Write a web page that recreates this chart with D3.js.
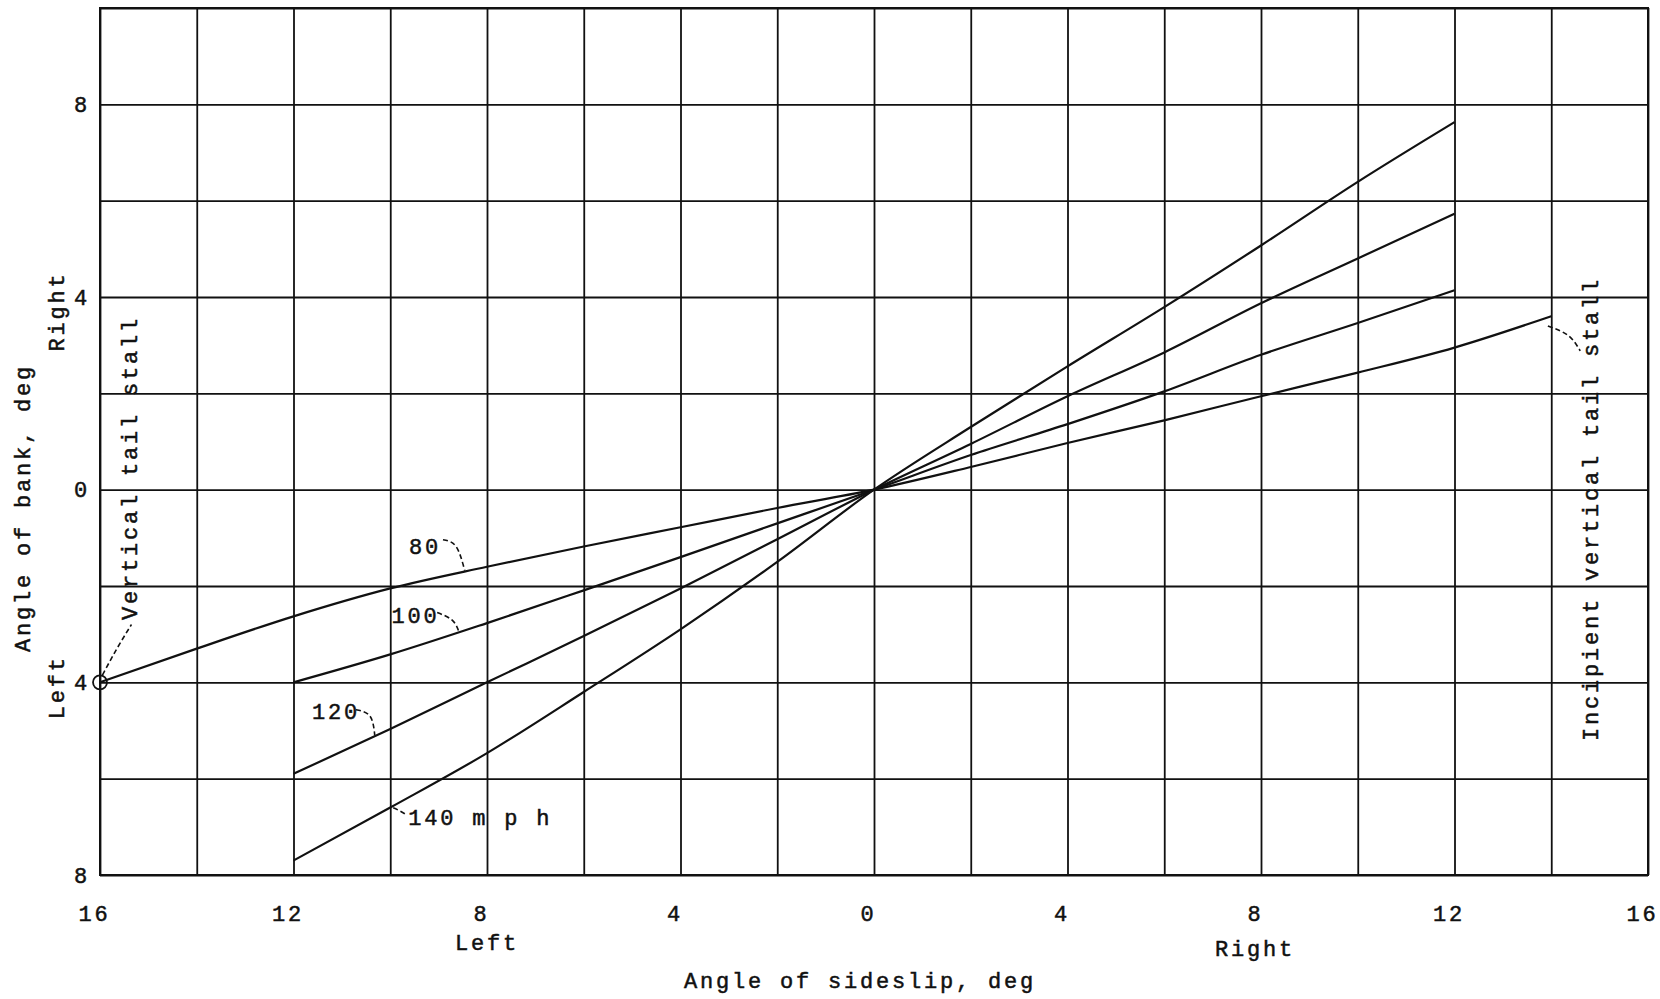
<!DOCTYPE html>
<html>
<head>
<meta charset="utf-8">
<script src="https://cdn.jsdelivr.net/npm/d3@7"></script>
<style>
body { margin: 0; background: #fff; }
text { font-family: "Liberation Mono", "Courier New", monospace; font-size: 22px; letter-spacing: 2.8px; fill: #111; stroke: #111; stroke-width: 0.5px; }
</style>
</head>
<body>
<svg id="chart" width="1660" height="999"></svg>
<script>
const svg = d3.select("#chart");

// Angle of sideslip (deg, left negative) and angle of bank (deg, left negative)
const beta80 = [-16, -14, -12, -10, -8, -6, -4, -2, 0, 2, 4, 6, 8, 10, 12, 14];
const phi80 = [-4, -3.3, -2.63, -2.05, -1.6, -1.18, -0.78, -0.38, 0, 0.47, 0.97, 1.44, 1.94, 2.43, 2.95, 3.6];
const beta100 = [-12, -10, -8, -6, -4, -2, 0, 2, 4, 6, 8, 10, 12];
const phi100 = [-4, -3.42, -2.77, -2.09, -1.4, -0.7, 0, 0.72, 1.36, 2.04, 2.8, 3.46, 4.14];
const beta120 = [-12, -10, -8, -6, -4, -2, 0, 2, 4, 6, 8, 10, 12];
const phi120 = [-5.9, -4.97, -4.0, -3.04, -2.05, -1.03, 0, 0.95, 1.94, 2.85, 3.87, 4.8, 5.73];
const beta140 = [-12, -10, -8, -6, -4, -2, 0, 2, 4, 6, 8, 10, 12];
const phi140 = [-7.7, -6.6, -5.47, -4.2, -2.9, -1.5, 0, 1.3, 2.56, 3.79, 5.07, 6.39, 7.63];

const speedLabels = ["80", "100", "120", "140 m p h"];
const xTicks = [-16, -12, -8, -4, 0, 4, 8, 12, 16];
const yTicks = [-8, -4, 0, 4, 8];
const xGrid = d3.range(-16, 17, 2);
const yGrid = d3.range(-8, 11, 2);

const x = d3.scaleLinear().domain([-16, 16]).range([100, 1648]);
const y = d3.scaleLinear().domain([-8, 10]).range([875, 8]);

const ink = "#111";

// grid
const gx = svg.append("g")
    .attr("transform", `translate(0,${y(-8)})`)
    .call(d3.axisBottom(x).tickValues(xGrid).tickSize(-(y(-8) - y(10))).tickFormat(""));
const gy = svg.append("g")
    .attr("transform", `translate(${x(-16)},0)`)
    .call(d3.axisLeft(y).tickValues(yGrid).tickSize(-(x(16) - x(-16))).tickFormat(""));
[gx, gy].forEach(g => {
    g.select(".domain").remove();
    g.selectAll("line").attr("stroke", ink).attr("stroke-width", 1.8);
});

svg.append("rect")
    .attr("x", x(-16)).attr("y", y(10))
    .attr("width", x(16) - x(-16)).attr("height", y(-8) - y(10))
    .attr("fill", "none").attr("stroke", ink).attr("stroke-width", 2);

// tick labels
const lx = svg.append("g")
    .attr("transform", `translate(0,${y(-8)})`)
    .call(d3.axisBottom(x).tickValues(xTicks).tickSize(0).tickPadding(30).tickFormat(d => Math.abs(d)));
lx.selectAll("text").attr("dx", -6);
const ly = svg.append("g")
    .attr("transform", `translate(${x(-16)},0)`)
    .call(d3.axisLeft(y).tickValues(yTicks).tickSize(0).tickPadding(10).tickFormat(d => Math.abs(d)));
[lx, ly].forEach(g => g.select(".domain").remove());

// axis titles
svg.append("text").attr("x", x(-8)).attr("y", 950).attr("text-anchor", "middle").text("Left");
svg.append("text").attr("x", x(8) - 6).attr("y", 956).attr("text-anchor", "middle").text("Right");
svg.append("text").attr("x", 860).attr("y", 988).attr("text-anchor", "middle").text("Angle of sideslip, deg");

const vtext = (tx, ty, s) => svg.append("text")
    .attr("transform", `translate(${tx},${ty}) rotate(-90)`)
    .attr("text-anchor", "middle").attr("dominant-baseline", "middle").text(s);
vtext(24, 508, "Angle of bank, deg");
vtext(58, y(3.7), "Right");
vtext(58, y(-4.1), "Left");

// curves
const series = [
    { b: beta80, p: phi80 },
    { b: beta100, p: phi100 },
    { b: beta120, p: phi120 },
    { b: beta140, p: phi140 }
];
const line = d3.line().x(d => x(d[0])).y(d => y(d[1])).curve(d3.curveMonotoneX);
svg.selectAll(".curve")
    .data(series)
    .enter().append("path")
    .attr("class", "curve")
    .attr("d", s => line(s.b.map((v, i) => [v, s.p[i]])))
    .attr("fill", "none").attr("stroke", ink).attr("stroke-width", 2.2);

// open circle at start of 80 mph curve
svg.append("circle")
    .attr("cx", x(beta80[0])).attr("cy", y(phi80[0])).attr("r", 7)
    .attr("fill", "none").attr("stroke", ink).attr("stroke-width", 1.8);

// labels with dashed leaders
const notes = [
    { t: speedLabels[0], at: [-9.28, -1.21], anchor: "middle", lead: [[-8.91, -1.04], [-8.64, -1.18], [-8.46, -1.68]] },
    { t: speedLabels[1], at: [-9.48, -2.64], anchor: "middle", lead: [[-9.03, -2.55], [-8.72, -2.71], [-8.58, -2.95]] },
    { t: speedLabels[2], at: [-11.12, -4.65], anchor: "middle", lead: [[-10.71, -4.57], [-10.42, -4.70], [-10.32, -5.1]] },
    { t: speedLabels[3], at: [-9.63, -6.85], anchor: "start", lead: [[-9.70, -6.73], [-9.84, -6.65], [-9.98, -6.59]] }
];
svg.selectAll(".note")
    .data(notes)
    .enter().append("text")
    .attr("class", "note")
    .attr("x", d => x(d.at[0])).attr("y", d => y(d.at[1]))
    .attr("text-anchor", d => d.anchor).attr("dominant-baseline", "middle")
    .text(d => d.t);

const leader = d3.line().x(d => x(d[0])).y(d => y(d[1])).curve(d3.curveNatural);
const leaders = notes.map(d => d.lead).concat([
    [[-15.95, -3.85], [-15.65, -3.3], [-15.35, -2.8]],
    [[13.93, 3.4], [14.35, 3.2], [14.6, 2.88]]
]);
svg.selectAll(".leader")
    .data(leaders)
    .enter().append("path")
    .attr("class", "leader")
    .attr("d", leader)
    .attr("fill", "none").attr("stroke", ink).attr("stroke-width", 1.6)
    .attr("stroke-dasharray", "5,3");

vtext(x(-15.36), y(0.45), "Vertical tail stall");
vtext(x(14.84), y(-0.4), "Incipient vertical tail stall");
</script>
</body>
</html>
